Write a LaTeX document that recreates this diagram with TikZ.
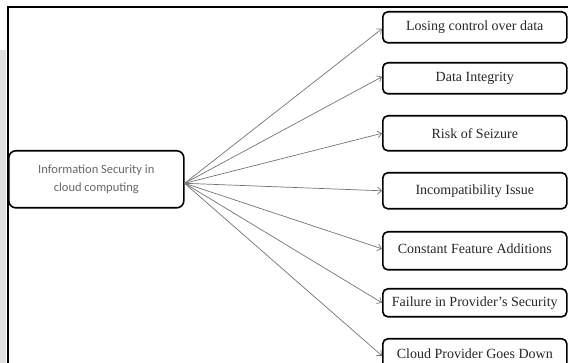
\documentclass[tikz,border=0pt]{standalone}
\usepackage{fontspec}
\setmainfont{Liberation Serif}
\newfontfamily\srcfont{Carlito}
\usetikzlibrary{arrows.meta}
\begin{document}
\begin{tikzpicture}[x=1pt,y=-1pt,
  issue/.style={draw=black, line width=1.6pt, rounded corners=5pt,
    minimum width=184pt, inner sep=0pt, anchor=north west,
    font=\fontsize{14}{16}\selectfont, text=black!85},
  hubbox/.style={draw=black, line width=1.6pt, rounded corners=7pt,
    minimum width=175pt, minimum height=57pt, inner sep=0pt, anchor=north west,
    align=center, font=\srcfont\fontsize{12.5}{18}\selectfont, text=black!60},
  link/.style={draw=black!55, line width=0.7pt,
    -{Straight Barb[length=4pt,width=7pt]}}]
\useasboundingbox (0,0) rectangle (568,363);

% page edge and frame
\fill[black!12] (0,50) rectangle (6,363);
\draw[line width=2pt] (7.5,363) -- (7.5,7.5) -- (568,7.5);

% central topic
\node[hubbox] (src) at (8,150) {Information Security in\\cloud computing};
\coordinate (hub) at ([yshift=-4pt]src.east);

% issues
\node[issue, minimum height=31pt] (i1) at (382,11) {Losing control over data};
\node[issue, minimum height=31pt] (i2) at (382,62) {Data Integrity};
\node[issue, minimum height=35pt] (i3) at (382,115) {Risk of Seizure};
\node[issue, minimum height=36pt] (i4) at (382,172) {Incompatibility Issue};
\node[issue, minimum height=38pt] (i5) at (382,231) {\raisebox{4pt}{Constant Feature Additions}};
\node[issue, minimum height=28pt] (i6) at (382,288) {Failure in Provider’s Security};
\node[issue, minimum height=30pt] (i7) at (382,338) {Cloud Provider Goes Down};

% connectors
\draw[link] (hub) -- ([yshift=-1.5pt]i1.west);
\draw[link] (hub) -- ([yshift=1.5pt]i2.west);
\draw[link] (hub) -- (i3.west);
\draw[link] (hub) -- (i4.west);
\draw[link] (hub) -- ([yshift=2pt]i5.west);
\draw[link] (hub) -- (i6.west);
\draw[link] (hub) -- ([yshift=-2pt]i7.west);
\end{tikzpicture}
\end{document}
